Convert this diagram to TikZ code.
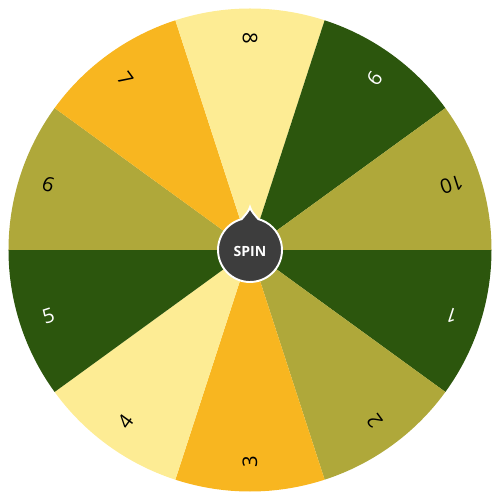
\documentclass[tikz,border=0pt]{standalone}
\usepackage{fontspec}
\setmainfont{Open Sans}
\usetikzlibrary{math}
\definecolor{wheelgreen}{RGB}{44,86,13}
\definecolor{wheelolive}{RGB}{175,168,58}
\definecolor{wheelorange}{RGB}{248,182,32}
\definecolor{wheelcream}{RGB}{253,236,148}
\definecolor{hubgray}{RGB}{61,61,61}
\tikzset{
  slotlabel/.style={font=\fontsize{11.5}{12}\selectfont, inner sep=0pt},
  hubline/.style={fill=hubgray, draw=white, line width=1.1pt}
}

\begin{document}
\begin{tikzpicture}[x=0.02cm, y=0.02cm]
\tikzmath{
\R=241.5;
\rt=212;
\rh=32;
}
\useasboundingbox (-250,-250) rectangle (250,250);

%sectors
\foreach \i/\col/\txt in {1/wheelgreen/white, 2/wheelolive/black, 3/wheelorange/black,
  4/wheelcream/black, 5/wheelgreen/white, 6/wheelolive/black, 7/wheelorange/black,
  8/wheelcream/black, 9/wheelgreen/white, 10/wheelolive/black}{
  \pgfmathsetmacro{\a}{378-36*\i}
  \fill[color=\col] (0,0) -- (\a-18:\R) arc[start angle=\a-18, end angle=\a+18, radius=\R] -- cycle;
  \node[slotlabel, text=\txt, rotate=\a+180] (lbl\i) at (\a:\rt) {\i};
}

%hub with pointer
\filldraw[hubline] (105:\rh) arc[start angle=105, end angle=435, radius=\rh]
  .. controls (4,36) and (1,39) .. (0,43)
  .. controls (-1,39) and (-4,36) .. cycle;
\node[font=\fontsize{8}{9}\bfseries\selectfont, text=white] (spin) at (0,-1) {SPIN};
\end{tikzpicture}
\end{document}
